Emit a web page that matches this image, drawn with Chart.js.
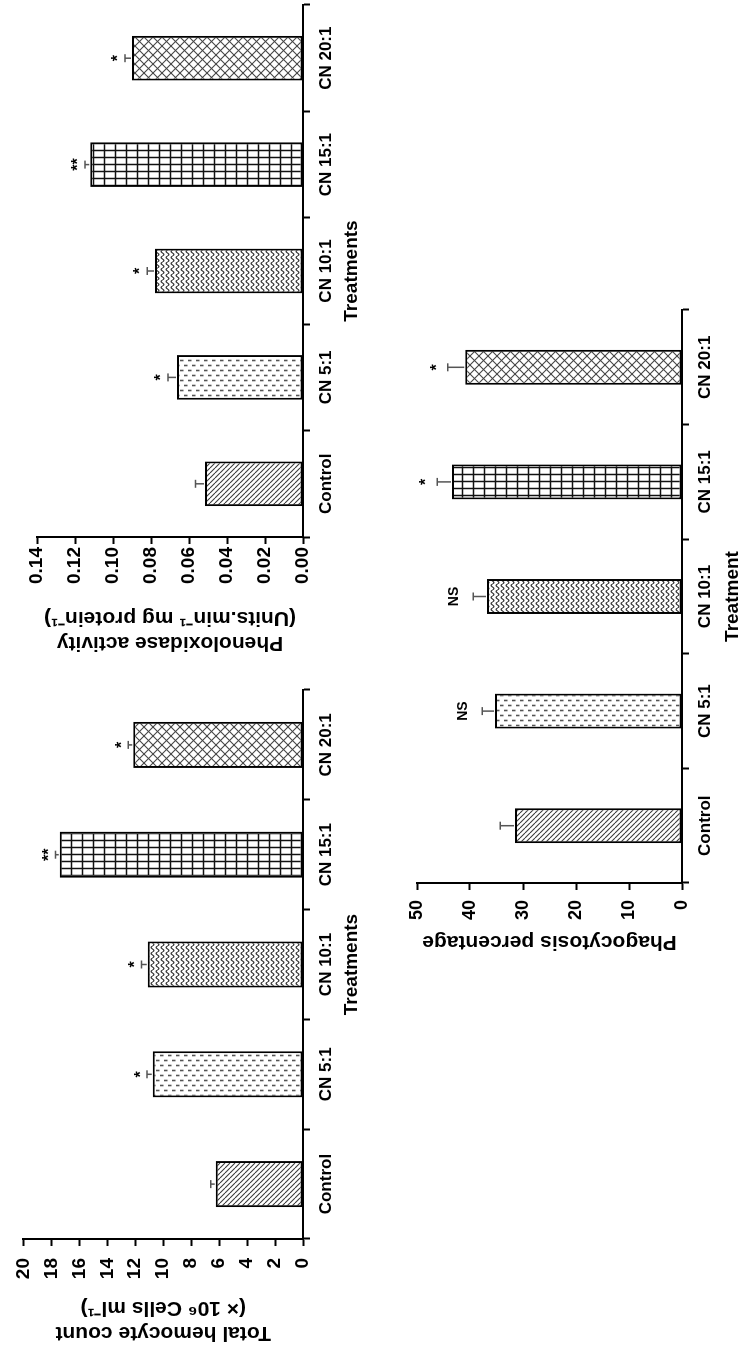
<!DOCTYPE html>
<html><head><meta charset="utf-8">
<script src="https://cdn.jsdelivr.net/npm/chart.js@4.4.1/dist/chart.umd.min.js"></script>
<style>
html,body{margin:0;padding:0;background:#fff;overflow:hidden;width:744px;height:1348px;}
#fig{position:absolute;left:0;top:0;width:1348px;height:744px;transform-origin:0 0;transform:translateY(1348px) rotate(-90deg);background:#fff;overflow:hidden}
canvas{position:absolute}
</style></head><body>
<div id="fig">
<canvas id="c1" width="675" height="372" style="left:0;top:0"></canvas>
<canvas id="c2" width="658" height="372" style="left:690px;top:0"></canvas>
<canvas id="c3" width="680" height="364" style="left:380px;top:380px"></canvas>
</div>
<script>
// ---------- data ----------
const categories = ['Control', 'CN 5:1', 'CN 10:1', 'CN 15:1', 'CN 20:1'];

const hemocyteValues = [6.25, 10.75, 11.1, 17.4, 12.15];
const hemocyteErrors = [0.35, 0.4, 0.45, 0.3, 0.35];
const hemocyteSig = ['', '*', '*', '**', '*'];
const hemocyteTicks = [0, 2, 4, 6, 8, 10, 12, 14, 16, 18, 20];
const hemocyteTickLabels = ['0', '2', '4', '6', '8', '10', '12', '14', '16', '18', '20'];

const poValues = [0.0516, 0.0663, 0.0779, 0.112, 0.090];
const poErrors = [0.005, 0.0047, 0.0041, 0.0027, 0.0037];
const poSig = ['', '*', '*', '**', '*'];
const poTicks = [0, 0.02, 0.04, 0.06, 0.08, 0.10, 0.12, 0.14];
const poTickLabels = ['0.00', '0.02', '0.04', '0.06', '0.08', '0.10', '0.12', '0.14'];

const phagoValues = [31.5, 35.3, 36.8, 43.4, 40.9];
const phagoErrors = [2.8, 2.4, 2.6, 2.8, 3.3];
const phagoSig = ['', 'NS', 'NS', '*', '*'];
const phagoTicks = [0, 10, 20, 30, 40, 50];
const phagoTickLabels = ['0', '10', '20', '30', '40', '50'];

// ---------- styling ----------
const FONT = '"Liberation Sans", Arial, Helvetica, sans-serif';

function mkPattern(kind) {
  const c = document.createElement('canvas');
  let g;
  if (kind === 'diag') {
    c.width = 5; c.height = 5; g = c.getContext('2d');
    g.fillStyle = '#fff'; g.fillRect(0, 0, 5, 5);
    g.strokeStyle = '#3a3a3a'; g.lineWidth = 1.1;
    for (let k = -1; k <= 1; k++) { g.beginPath(); g.moveTo(k * 5, 0); g.lineTo(k * 5 + 5, 5); g.stroke(); }
  } else if (kind === 'dash') {
    c.width = 10; c.height = 8; g = c.getContext('2d');
    g.fillStyle = '#fff'; g.fillRect(0, 0, 10, 8);
    g.strokeStyle = '#555'; g.lineWidth = 1.6;
    g.beginPath(); g.moveTo(2.5, 0); g.lineTo(2.5, 3.5); g.stroke();
    g.beginPath(); g.moveTo(7.5, 4); g.lineTo(7.5, 7.5); g.stroke();
  } else if (kind === 'wave') {
    c.width = 6; c.height = 5; g = c.getContext('2d');
    g.fillStyle = '#fff'; g.fillRect(0, 0, 6, 5);
    g.strokeStyle = '#333'; g.lineWidth = 1.2;
    g.beginPath();
    for (let x = 0; x <= 6; x += 0.5) {
      const y = 2.5 + 1.4 * Math.sin(x / 6 * 2 * Math.PI);
      if (x === 0) g.moveTo(x, y); else g.lineTo(x, y);
    }
    g.stroke();
  } else if (kind === 'grid') {
    c.width = 7; c.height = 11; g = c.getContext('2d');
    g.fillStyle = '#fff'; g.fillRect(0, 0, 7, 11);
    g.strokeStyle = '#111'; g.lineWidth = 1.5;
    g.beginPath(); g.moveTo(3.5, 0); g.lineTo(3.5, 11); g.stroke();
    g.beginPath(); g.moveTo(0, 5.5); g.lineTo(7, 5.5); g.stroke();
  } else {
    c.width = 9; c.height = 9; g = c.getContext('2d');
    g.fillStyle = '#fff'; g.fillRect(0, 0, 9, 9);
    g.strokeStyle = '#444'; g.lineWidth = 1.1;
    for (let k = -1; k <= 1; k++) {
      g.beginPath(); g.moveTo(k * 9, 0); g.lineTo(k * 9 + 9, 9); g.stroke();
      g.beginPath(); g.moveTo(k * 9, 9); g.lineTo(k * 9 + 9, 0); g.stroke();
    }
  }
  return document.createElement('canvas').getContext('2d').createPattern(c, 'repeat');
}
const patternKinds = ['diag', 'dash', 'wave', 'grid', 'diamond'];

const errPlugin = {
  id: 'errsig',
  afterDatasetsDraw(chart, args, opts) {
    const { ctx } = chart;
    const x = chart.scales.x, y = chart.scales.y;
    const vals = chart.data.datasets[0].data;
    ctx.save();
    vals.forEach((v, i) => {
      const px = x.getPixelForValue(i);
      const y0 = y.getPixelForValue(v);
      const y1 = y.getPixelForValue(v + opts.errors[i]);
      ctx.strokeStyle = '#555'; ctx.lineWidth = 1.5;
      ctx.beginPath();
      ctx.moveTo(px, y0 - 1); ctx.lineTo(px, y1);
      ctx.moveTo(px - opts.cap, y1); ctx.lineTo(px + opts.cap, y1);
      ctx.stroke();
      const s = opts.sig[i];
      if (s) {
        const isStar = s.indexOf('*') >= 0;
        const fs = isStar ? opts.starSize : opts.nsSize;
        ctx.font = 'bold ' + fs + 'px ' + FONT;
        ctx.fillStyle = '#000';
        ctx.textAlign = 'center';
        ctx.textBaseline = 'alphabetic';
        const gap = isStar ? opts.starGap : opts.nsGap;
        const centerOff = isStar ? 0.55 * fs : 0.36 * fs;
        ctx.fillText(s, px, y1 - gap + centerOff);
      }
    });
    ctx.restore();
  }
};

function makeChart(id, cfg) {
  const ctx = document.getElementById(id).getContext('2d');
  return new Chart(ctx, {
    type: 'bar',
    data: {
      labels: categories,
      datasets: [{
        data: cfg.values,
        backgroundColor: patternKinds.map(mkPattern),
        borderColor: '#000',
        borderWidth: 2,
        borderSkipped: false,
        barPercentage: cfg.barPct,
        categoryPercentage: 1
      }]
    },
    options: {
      responsive: false,
      animation: false,
      devicePixelRatio: 1,
      layout: { padding: cfg.pad },
      plugins: {
        legend: { display: false },
        tooltip: { enabled: false },
        errsig: { errors: cfg.errors, sig: cfg.sig, cap: 4, starSize: 16, nsSize: 14, starGap: cfg.starGap, nsGap: 20 }
      },
      scales: {
        x: {
          offset: true,
          grid: { display: true, drawOnChartArea: false, drawTicks: true, tickLength: 7, tickColor: '#000', tickWidth: 2, offset: true },
          border: { display: true, color: '#000', width: 2 },
          ticks: { color: '#000', font: { family: FONT, size: 17, weight: 'bold' }, padding: 6, maxRotation: 0, minRotation: 0, autoSkip: false },
          title: { display: true, text: cfg.xTitle, color: '#000', font: { family: FONT, size: 19, weight: 'bold', lineHeight: 1.2 }, padding: { top: 0, bottom: cfg.xTitlePad } },
          afterFit(s) { s.height = cfg.xH; }
        },
        y: {
          min: cfg.ticks[0],
          max: cfg.ticks[cfg.ticks.length - 1],
          afterBuildTicks(s) { s.ticks = cfg.ticks.map(v => ({ value: v })); },
          grid: { drawOnChartArea: false, drawTicks: true, tickLength: 7, tickColor: '#000', tickWidth: 2 },
          border: { display: true, color: '#000', width: 2 },
          ticks: { color: '#000', font: { family: FONT, size: cfg.tickSize, weight: 'bold' }, padding: cfg.tickPad,
                   callback: (v, i) => cfg.tickLabels[i] },
          title: { display: true, text: cfg.yTitle, color: '#000', font: { family: FONT, size: 21, weight: 'bold', lineHeight: 1.22 }, padding: { top: cfg.yTitlePad, bottom: 0 } },
          afterFit(s) { s.width = cfg.yW; }
        }
      }
    },
    plugins: [errPlugin]
  });
}

makeChart('c1', {
  values: hemocyteValues, errors: hemocyteErrors, sig: hemocyteSig,
  ticks: hemocyteTicks, tickLabels: hemocyteTickLabels,
  barPct: 0.42, pad: { left: 0, right: 17, top: 15, bottom: 0 },
  xTitle: 'Treatments', xTitlePad: 8.6, xH: 69,
  yTitle: ['Total hemocyte count', '(× 10⁶ Cells ml⁻¹)'], yTitlePad: 2.2, yW: 109,
  tickSize: 19, tickPad: 12, starGap: 10
});

makeChart('c2', {
  values: poValues, errors: poErrors, sig: poSig,
  ticks: poTicks, tickLabels: poTickLabels,
  barPct: 0.42, pad: { left: 0, right: 5, top: 37, bottom: 0 },
  xTitle: 'Treatments', xTitlePad: 8.6, xH: 69,
  yTitle: ['Phenoloxidase activity', '(Units.min⁻¹ mg protein⁻¹)'], yTitlePad: 2.2, yW: 121,
  tickSize: 19, tickPad: 3, starGap: 11
});

makeChart('c3', {
  values: phagoValues, errors: phagoErrors, sig: phagoSig,
  ticks: phagoTicks, tickLabels: phagoTickLabels,
  barPct: 0.305, pad: { left: 0, right: 22, top: 37, bottom: 0 },
  xTitle: 'Treatment', xTitlePad: 0, xH: 62,
  yTitle: 'Phagocytosis percentage', yTitlePad: 13.4, yW: 85,
  tickSize: 18, tickPad: 10, starGap: 15
});
</script>
</body></html>
